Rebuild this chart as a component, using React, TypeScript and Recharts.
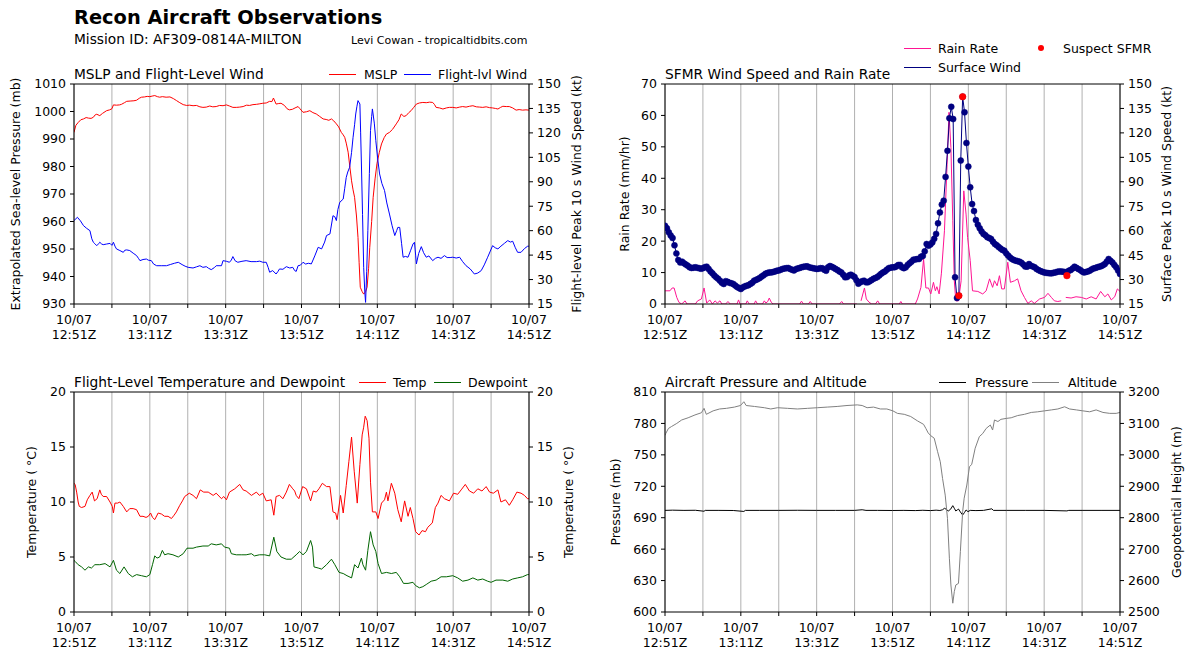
import React from 'react';
import { ComposedChart, Line, XAxis, YAxis, CartesianGrid, ReferenceLine } from 'recharts';

const FONT = '"DejaVu Sans", sans-serif';

type Pair = [number, number | null];

// ---------- x axis (minutes after 12:51Z) ----------
const timeTicks = [0, 10, 20, 30, 40, 50, 60, 70, 80, 90, 100, 110, 120];
const timeLabels = ['12:51Z', '13:11Z', '13:31Z', '13:51Z', '14:11Z', '14:31Z', '14:51Z'];
const dateLabel = '10/07';

// ---------- y axis ticks ----------
const mslpTicks = [930, 940, 950, 960, 970, 980, 990, 1000, 1010];
const windTicks = [15, 30, 45, 60, 75, 90, 105, 120, 135, 150];
const rainTicks = [0, 10, 20, 30, 40, 50, 60, 70];
const tempTicks = [0, 5, 10, 15, 20];
const presTicks = [600, 630, 660, 690, 720, 750, 780, 810];
const altTicks = [2500, 2600, 2700, 2800, 2900, 3000, 3100, 3200];

// ---------- Panel 1: MSLP (mb) ----------
const mslp: Pair[] = [
  [0, 992.4], [0.5, 995], [1.1, 996], [1.8, 997], [2.5, 997.3], [3.2, 997.8], [3.8, 997.6], [4.5, 997.5], [5.1, 997.9], [5.6, 998.8],
  [6, 999], [6.8, 998.5], [7.5, 999.3], [8.6, 1000.3], [9.4, 1000.6], [10, 1001], [10.4, 1002.4], [11.2, 1002.3], [12, 1002.4], [12.5, 1002.6],
  [13.3, 1003.2], [13.9, 1003.7], [14.8, 1003.8], [15.8, 1003.9], [16.5, 1004.1], [17.2, 1004.8], [17.8, 1005.2], [18.6, 1005.3], [19.3, 1005.5], [20, 1005.4],
  [20.6, 1005.6], [21.3, 1005.8], [22, 1005.4], [22.6, 1005.2], [23.3, 1005.4], [24.3, 1005.2], [25.3, 1005.3], [26.2, 1004.7], [27, 1004], [27.9, 1003.2],
  [28.8, 1002.5], [29.7, 1002.2], [30.5, 1002.3], [31.4, 1002.1], [32.3, 1002.2], [33.2, 1001.7], [34, 1001.5], [34.9, 1001.6], [35.8, 1002], [36.6, 1001.7],
  [37.5, 1001.8], [38.4, 1002.2], [39.3, 1002.1], [40.2, 1002.4], [41, 1002], [41.9, 1001.5], [42.8, 1001.5], [43.7, 1001.6], [44.6, 1001.8], [45.5, 1002.3],
  [46.3, 1002.2], [47.2, 1002.5], [48.1, 1002.6], [49, 1002.8], [49.8, 1003], [50.7, 1003.1], [51.6, 1003.7], [52.2, 1003.6], [52.6, 1004.9], [53.3, 1002.7],
  [54, 1002.9], [54.6, 1003], [55.5, 1002.2], [56.2, 1001], [56.8, 1000.6], [57.6, 1000.8], [58.3, 1001.3], [59.1, 1001.8], [59.6, 1001], [60.4, 999.7],
  [61.3, 999.9], [62.2, 1000.3], [63, 999.6], [63.9, 999.1], [64.8, 998.2], [65.7, 997.3], [66.5, 997.1], [67.2, 996.8], [67.9, 997.3], [68.5, 996.6],
  [69.2, 995.5], [69.8, 994.4], [70.5, 992.4], [71, 991.5], [71.4, 990.6], [71.8, 988.5], [72.3, 985.2], [72.7, 980.5], [73.2, 974.8], [73.6, 971.5],
  [74, 968.8], [74.5, 962], [74.9, 954.2], [75.2, 945], [75.5, 936.1], [76, 934.5], [76.4, 933.6], [76.9, 934.5], [77.3, 936.1], [77.7, 943],
  [78, 950.6], [78.5, 960], [78.9, 968.8], [79.4, 975.5], [79.9, 981], [80.5, 985], [81.1, 988.2], [81.8, 990.5], [82.4, 991.8], [83.2, 992.4],
  [84, 993.5], [85, 995.5], [85.7, 997], [86.3, 999.1], [87, 998.2], [87.6, 998.5], [88.3, 999.6], [88.9, 1000.3], [89.6, 1001.5], [90.3, 1002.7],
  [91.1, 1003.1], [92, 1003.3], [92.9, 1003.2], [93.8, 1003.4], [94.6, 1003.3], [95.1, 1002.5], [95.5, 1001.5], [96.4, 1001.3], [97.3, 1000.9], [98.2, 1001.3],
  [99, 1001.5], [99.9, 1001.5], [100.8, 1001.3], [101.7, 1001.6], [102.5, 1001.8], [103.4, 1001.6], [104.3, 1001.9], [105.2, 1002.1], [106.1, 1001.7], [107, 1001.6],
  [107.8, 1001.5], [108.7, 1001.7], [109.6, 1001.4], [110.4, 1001.3], [111.2, 1001.1], [111.8, 1000.9], [112.5, 1001.5], [113.1, 1001.9], [114, 1001.8], [114.8, 1001.8],
  [115.7, 1001.3], [116.6, 1000.5], [117.4, 1000.7], [118.3, 1000.5], [119.2, 1000.6], [120, 1000.5],
];

// ---------- Panel 1: flight-level wind (kt) ----------
const flWind: Pair[] = [
  [0, 66.2], [0.9, 68.2], [1.7, 66], [2.5, 63.1], [3.3, 61.5], [4.2, 60], [4.7, 55], [5.1, 52.9], [5.5, 52], [6, 50.8],
  [6.5, 52], [6.8, 52.9], [7.3, 51.8], [7.7, 51.4], [8.6, 51.8], [9.5, 52.2], [10, 51], [10.4, 52.9], [10.8, 50.5], [11.2, 48.8],
  [12.1, 47.8], [13, 46.7], [13.4, 48], [13.9, 48.2], [14.7, 47.8], [15.6, 46.2], [16.5, 44.7], [17, 43], [17.4, 41.6], [18.2, 42.3],
  [19.1, 42.6], [19.6, 41.9], [20.4, 41.6], [21, 39.5], [21.8, 38.5], [23, 38.5], [24.4, 38.5], [25.5, 39.3], [26.5, 40], [27.5, 40.6],
  [28.5, 39.2], [29.3, 38.2], [30.1, 37.5], [31.4, 37.1], [32.3, 37.8], [33.2, 38.5], [34, 37.5], [34.9, 37.9], [35.5, 36.9], [36.2, 36.1],
  [37, 37.3], [37.5, 38.5], [38.9, 38.5], [39.3, 41.6], [40.2, 41.2], [41, 40.6], [41.5, 42], [41.9, 44.1], [42.5, 41.5], [43.2, 40.6],
  [44.3, 41.2], [45.4, 41.6], [46.7, 41], [48.1, 41], [49, 41.3], [49.8, 40.6], [50.7, 40.6], [51.2, 37.5], [51.6, 34.5], [52.4, 35.5],
  [53.3, 33.4], [53.8, 35], [54.2, 36.5], [55.1, 36.3], [56, 37.9], [56.9, 37.1], [57.7, 37.5], [58.2, 35.5], [58.6, 35], [59.1, 38.5],
  [59.7, 38.8], [60.4, 40.6], [61.1, 39.5], [61.8, 40], [62.6, 39.6], [63.5, 44.5], [64.4, 49.8], [65.3, 48.8], [66.1, 53], [66.6, 57],
  [67.5, 58], [68.3, 69.2], [68.8, 68.5], [69.2, 66.2], [69.6, 73], [70.1, 77.4], [71, 79.4], [71.4, 86], [71.8, 92.7], [72.2, 96],
  [72.7, 98.9], [73.2, 108], [73.6, 117.3], [74, 125], [74.3, 131.6], [74.6, 136], [74.9, 139.8], [75.4, 137.7], [75.6, 120], [75.8, 100.9],
  [76.1, 70], [76.4, 37.5], [76.7, 22], [76.9, 16], [77.2, 35], [77.5, 60], [77.9, 95], [78.2, 121.4], [78.5, 130], [78.7, 134.7],
  [79.2, 126], [79.6, 115.2], [80.1, 104], [80.6, 94.8], [81.2, 89], [81.9, 84.6], [82.5, 77], [83.2, 70.2], [83.9, 63], [84.6, 57],
  [85.1, 60], [85.4, 62], [85.9, 62], [86.4, 52], [86.8, 43.7], [87.4, 44.2], [88.1, 43.7], [88.8, 48], [89.4, 51.8], [89.8, 52.9],
  [90.1, 45], [90.3, 39.6], [90.9, 46], [91.6, 50.2], [92.2, 46.5], [92.9, 43.7], [93.6, 44.5], [94.6, 41.6], [95.3, 43], [96, 43.7],
  [96.8, 43], [97.7, 44.7], [98.4, 43.5], [99.2, 43.5], [99.9, 43.7], [100.8, 43.2], [101.7, 43.7], [102.5, 41], [103.4, 38.5], [104.5, 36.5],
  [105.6, 33.4], [106.5, 34], [107.4, 35.5], [108.2, 39], [109.1, 43.7], [109.8, 47.5], [110.4, 50.8], [111.1, 49.5], [111.8, 48.8], [112.6, 50.5],
  [113.5, 52.2], [114.4, 53.9], [115.1, 53], [115.7, 53.5], [116.4, 49.5], [117, 46.7], [117.9, 46.7], [118.8, 49], [119.6, 50.4], [120, 50.5],
];

// ---------- Panel 2: SFMR surface wind (kt), 30-s observations ----------
const sfmr: Pair[] = [
  [0, 63], [0.5, 61.5], [1, 59], [1.5, 57], [2, 55.5], [2.5, 51], [3, 46], [3.5, 42], [4, 40.5], [4.5, 41],
  [5, 40], [5.5, 39.2], [6, 38.5], [6.5, 37.5], [7, 37.1], [7.5, 37.3], [8, 37.5], [8.5, 37.2], [9, 37], [9.5, 36.6],
  [10, 37], [10.5, 37.6], [11, 37.9], [11.5, 36.5], [12, 35], [12.5, 33.8], [13, 32.5], [13.5, 31.4], [14, 30.5], [14.5, 29.3],
  [15, 28], [15.5, 27.3], [16, 29], [16.5, 28.6], [17, 28], [17.5, 27.7], [18, 27.3], [18.5, 26.4], [19, 25.5], [19.5, 24.8],
  [20, 24.2], [20.5, 25.2], [21, 25.8], [21.5, 26.2], [22, 26.5], [22.5, 27.3], [23, 28], [23.5, 29.3], [24, 29.8], [24.5, 30.3],
  [25, 31], [25.5, 31.9], [26, 32.6], [26.5, 33.6], [27, 34], [27.5, 34.4], [28, 34.4], [28.5, 34.6], [29, 35], [29.5, 35.4],
  [30, 35.6], [30.5, 36], [31, 36.5], [31.5, 36.8], [32, 37], [32.5, 37.1], [33, 36.5], [33.5, 36], [34, 35.6], [34.5, 36.4],
  [35, 36.8], [35.5, 37.1], [36, 37.5], [36.5, 37.8], [37, 38], [37.5, 38.1], [38, 37.5], [38.5, 37.3], [39, 37], [39.5, 36.8],
  [40, 36.5], [40.5, 36.7], [41, 37], [41.5, 36.9], [42, 36], [42.5, 35.4], [43, 37.5], [43.5, 38.3], [44, 37.8], [44.5, 37.2],
  [45, 36.5], [45.5, 35.8], [46, 35], [46.5, 34.4], [47, 33], [47.5, 31.4], [48, 31.5], [48.5, 32.5], [49, 33], [49.5, 32.4],
  [50, 31.5], [50.5, 29.5], [51, 27.5], [51.5, 28.3], [52, 29], [52.5, 29.3], [53, 28.3], [53.5, 28.3], [54, 29], [54.5, 29.7],
  [55, 30.5], [55.5, 31], [56, 31.5], [56.5, 32.5], [57, 33.5], [57.5, 34.4], [58, 35], [58.5, 36], [59, 37], [59.5, 37.3],
  [60, 37.5], [60.5, 37.5], [61, 38], [61.5, 38.9], [62, 39], [62.5, 37.5], [63, 37], [63.5, 37.5], [64, 39], [64.5, 40],
  [65, 41], [65.5, 42.2], [66, 42.3], [66.5, 42.6], [67, 42.6], [67.5, 44], [68, 44.5], [68.5, 47.3], [69, 51.8], [69.5, 50.8],
  [70, 51.5], [70.5, 52.8], [71, 55], [71.5, 58], [72, 64.5], [72.5, 71.2], [73, 76], [73.5, 78.4], [74, 93], [74.5, 109],
  [75, 129], [75.5, 136], [76, 128.5], [76.5, 31.4], [77, 18.7], [77.5, 20.1], [78, 103], [78.5, 142.2], [79, 132.6], [79.5, 113.8],
  [80, 99.3], [80.5, 86.6], [81, 76.3], [81.5, 72], [82, 66.5], [82.5, 63.7], [83, 61.5], [83.5, 59.5], [84, 58], [84.5, 57.2],
  [85, 56], [85.5, 55.5], [86, 54.9], [86.5, 53.2], [87, 51.8], [87.5, 51], [88, 50], [88.5, 49], [89, 48.2], [89.5, 47.7],
  [90, 46], [90.5, 44.7], [91, 43.5], [91.5, 42.6], [92, 42], [92.5, 41.6], [93, 41.3], [93.5, 41], [94, 40.3], [94.5, 39.2],
  [95, 38], [95.5, 37.9], [96, 39.5], [96.5, 38.5], [97, 38], [97.5, 37.5], [98, 36.5], [98.5, 35.8], [99, 35.2], [99.5, 34.8],
  [100, 34.4], [100.5, 34.1], [101, 34], [101.5, 33.8], [102, 33.8], [102.5, 34.2], [103, 34.4], [103.5, 34.8], [104, 35], [104.5, 34.9],
  [105, 34.8], [105.5, 34.6], [106, null], [106.5, 35.4], [107, 35.8], [107.5, 36.8], [108, 37.9], [108.5, 37.2], [109, 36.5], [109.5, 35.9],
  [110, 35], [110.5, 34.4], [111, 34.6], [111.5, 35], [112, 35.4], [112.5, 36.2], [113, 36.8], [113.5, 37.1], [114, 37.5], [114.5, 37.9],
  [115, 38.2], [115.5, 38.8], [116, 39.5], [116.5, 41], [117, 42.6], [117.5, 41.5], [118, 40.5], [118.5, 39], [119, 37.5], [119.5, 35.5],
  [120, 33.4],
];
const suspectSfmr: Pair[] = [[77.5, 20.1], [78.5, 142.2], [106, 32.4]];

// ---------- Panel 2: rain rate (mm/hr) ----------
const rainRate: Pair[] = [
  [0, 4.2], [1.3, 4.2], [1.9, 5.1], [2.4, 5.1], [3.1, 2.1], [3.7, 0.5], [4.4, 0], [5.3, 1], [5.8, 0], [8, 0],
  [8.6, 1], [9.6, 1.6], [10.3, 5.1], [11, 0.3], [11.8, 1.3], [12.5, 0], [13.2, 1], [13.8, 0.3], [14.5, 1], [15, 0],
  [16, 0], [16.6, 0.8], [17.2, 0], [19, 0], [19.4, 1.3], [19.8, 0], [21.3, 0], [21.7, 1], [22.2, 0], [23.5, 0],
  [23.9, 1], [24.4, 0], [25.7, 0], [26.2, 1], [26.6, 0.3], [27.1, 0.8], [27.5, 1.9], [28, 0.6], [28.5, 0], [35.5, 0],
  [36, 0.9], [36.5, 0], [37.8, 0], [38.3, 0.8], [38.8, 0], [46, 0], [46.6, 0.8], [47.1, 0], [50.6, 0], [51.2, null],
  [51.7, 1], [52.6, 5.1], [53.1, 1.6], [53.8, 0.6], [54.5, 0], [55.5, 0], [56.1, 1], [56.6, 0], [61.8, 0], [62.2, 0.8],
  [62.6, 0], [66, 0], [66.6, 1.6], [67.5, 5.3], [68.2, 14.3], [68.8, 5.1], [69.5, 5.1], [70.1, 3.2], [70.8, 6.9], [71.3, 4.2],
  [71.7, 5.5], [72.3, 3.2], [72.9, 9.8], [73.7, 23.3], [74.4, 44.5], [74.9, 61], [75.4, 49.8], [75.9, 26.5], [76.3, 7.4], [76.7, 1],
  [77.4, 1], [78.1, 7.4], [78.8, 36], [79.4, 28.6], [79.8, 21.2], [80.5, 13.8], [81.1, 4.2], [82.5, 4], [83.8, 3.2], [84.7, 4.2],
  [85.6, 8], [86.4, 5.3], [86.9, 7.4], [87.6, 5.8], [88.2, 9], [88.8, 4.8], [89.5, 4.8], [90.4, 13.3], [91.1, 6.9], [92.2, 7.4],
  [93, 8], [93.9, 4.2], [94.8, 2.1], [95.7, 0.2], [96.6, 1], [97.4, 0.2], [98.8, 1.6], [100.1, 2.1], [101, 3.4], [101.9, 2.1],
  [102.7, 1], [103.6, 0.8], [104.5, 1], [105.1, null], [105.7, 2.1], [107.1, 1.9], [108.4, 2.3], [109.8, 2.1], [111.1, 1.6], [112.4, 2.3],
  [113.7, 1.6], [114.9, 4], [116, 2.3], [116.8, 3.2], [117.7, 1.3], [118.6, 2.3], [119.3, 4.8], [120, 4],
];

// ---------- Panel 3: temperature / dewpoint (C) ----------
const temp: Pair[] = [
  [0, 11.7], [0.3, 11.6], [0.7, 10.9], [1.1, 10], [1.4, 9.6], [2, 9.5], [2.9, 9.6], [3.5, 10.2], [4.2, 10.6], [4.8, 10.9],
  [5.4, 10.1], [6.1, 10.3], [6.8, 11.1], [7.2, 10.7], [7.7, 10.5], [8.6, 10.5], [9.5, 10], [10.1, 9.6], [10.4, 9], [10.8, 9.9],
  [11.5, 9.9], [12.1, 10], [13, 9.6], [13.9, 9.1], [14.7, 9.4], [15.6, 9.4], [16.5, 9.3], [17.4, 8.7], [18.2, 8.7], [19, 8.6],
  [19.6, 8.7], [20.2, 9], [20.7, 8.6], [21.3, 8.4], [22.2, 9], [23.1, 8.9], [23.9, 8.7], [24.8, 8.7], [25.7, 8.5], [26.4, 8.8],
  [27, 9.1], [27.9, 9.7], [28.6, 10.1], [29.2, 10.5], [30.4, 10.8], [31.4, 10.6], [32.3, 10.3], [33.3, 11.1], [34.2, 10.9], [35.4, 10.9],
  [36.7, 10.6], [37.5, 10.8], [38.9, 10.3], [39.5, 10.5], [40.2, 10.2], [41, 10.9], [42.4, 11.2], [43.7, 11.6], [44.6, 11.1], [45.4, 11],
  [46.8, 10.6], [48.1, 10.9], [48.9, 10.6], [49.8, 10.8], [50.7, 10.1], [52, 10.2], [52.7, 8.8], [53.3, 10.5], [54.2, 10.6], [55.1, 10.3],
  [56, 10.9], [56.8, 11.6], [57.7, 11.2], [58.2, 11], [58.6, 10.6], [59.3, 10.3], [60.3, 11.4], [61.3, 11.2], [62.4, 10.1], [63.1, 11],
  [63.9, 10.9], [64.6, 11.2], [65.5, 11.7], [66.6, 11.4], [67.5, 11.4], [68.3, 9.1], [69, 9], [69.4, 8.4], [70.3, 10.6], [71, 9],
  [71.8, 11.5], [72.5, 13.7], [73.2, 15.9], [73.9, 12.8], [74.7, 9.9], [75.4, 13.4], [76, 16.1], [76.4, 16.8], [76.8, 17.8], [77.3, 17.4],
  [77.8, 15.8], [78.2, 11.8], [78.7, 9.1], [79.6, 9.1], [80.2, 8.5], [81.1, 9.9], [81.9, 10.2], [82.4, 10.9], [82.8, 10.1], [83.7, 11.7],
  [84.6, 10.8], [85.4, 9.3], [86.3, 8.2], [87.2, 10.1], [88.1, 8.7], [88.7, 9.5], [89.4, 8.5], [90.1, 7.3], [91, 7], [91.8, 7.4],
  [92.7, 7.3], [93.3, 7.7], [94.5, 8.1], [95.3, 9.5], [96, 9.9], [96.8, 10.6], [97.7, 10.3], [99, 10.1], [100.1, 10.8], [101.2, 10.7],
  [102.1, 11.1], [103.2, 11.6], [104.3, 11], [105.4, 10.8], [106.5, 11.2], [107.6, 11], [108.7, 11.4], [109.6, 10.9], [110.6, 10.8], [111.8, 11.1],
  [112.6, 10], [113.8, 10.2], [114.8, 9.7], [115.7, 10.2], [116.8, 10.9], [117.9, 10.8], [118.8, 10.6], [119.6, 10.3], [120, 10.3],
];
const dewpoint: Pair[] = [
  [0, 4.7], [0.3, 4.6], [1.1, 4.3], [2, 4.1], [2.9, 3.8], [3.8, 4.1], [4.6, 4], [5.5, 4.3], [6.8, 4.3], [8.2, 4.4],
  [9.5, 4.1], [10.4, 4.7], [11.2, 3.8], [12.1, 3.5], [13.2, 4.1], [14.3, 3.5], [15.4, 3.2], [16.5, 3.4], [17.8, 3.3], [19.1, 3.2],
  [20, 3.4], [20.7, 4.3], [21.3, 5.1], [21.9, 4.9], [22.6, 5], [23.3, 5.6], [23.9, 5.2], [24.8, 5.3], [26.1, 5.2], [27.5, 5],
  [28.8, 5.3], [29.8, 5.8], [31.4, 5.8], [32.3, 5.9], [34, 6], [35.4, 6], [36.2, 6.2], [37.5, 6.1], [38.9, 6.2], [39.7, 5.9],
  [41, 5.8], [41.5, 5.3], [42.8, 5.2], [44.1, 5.2], [45.4, 5.2], [46.8, 5.3], [47.6, 5.1], [48.9, 5.2], [50.3, 5.2], [51.6, 5.1],
  [52.7, 6.8], [53.5, 5.5], [54.6, 5], [56, 4.8], [57.3, 4.8], [58.6, 5.2], [59.5, 5.5], [60.4, 5.2], [61.3, 5.5], [62.4, 6.5],
  [62.9, 5.9], [63.3, 4.1], [64.4, 4], [65.3, 3.9], [66.6, 4.3], [67.9, 4.8], [68.8, 4.3], [69.9, 3.6], [71, 3.5], [72, 3.3],
  [73.2, 3.1], [74, 4.3], [74.9, 4], [75.8, 4.9], [76.2, 4.3], [76.9, 3.8], [77.5, 5.6], [78.2, 7.3], [78.9, 6.1], [79.6, 5.5],
  [80.2, 4.4], [81.1, 3.5], [82.4, 3.6], [83.7, 3.5], [85, 3.6], [85.9, 3.2], [86.9, 2.6], [88.1, 2.6], [89.4, 2.7], [90.1, 2.4],
  [91.1, 2.2], [92, 2.3], [92.9, 2.5], [94.2, 2.8], [95.5, 2.9], [96.8, 3.2], [98.2, 3.2], [99.9, 3.3], [101.2, 3.1], [102.5, 2.8],
  [103.9, 2.9], [105.2, 3.1], [106.5, 2.9], [107.8, 3], [109.1, 2.8], [110, 2.7], [111.3, 2.9], [113.1, 2.9], [114.4, 2.8], [115.7, 3],
  [117, 3.1], [118.3, 3.2], [119.6, 3.4], [120, 3.4],
];

// ---------- Panel 4: aircraft pressure (mb) / altitude (m) ----------
const acPressure: Pair[] = [
  [0, 697], [2, 697.2], [5, 697], [8, 697.1], [10.3, 696.2], [10.6, 697], [14, 697], [18, 696.9], [20.8, 696], [21.2, 697],
  [25, 697], [30, 697], [35, 697.1], [40, 697], [45, 697], [50, 697], [52, 697.6], [53, 697], [56, 697], [60, 696.9],
  [63, 697], [66, 696.8], [68, 697.1], [70, 696.8], [71.5, 697.2], [72.5, 696.9], [73.2, 697.6], [73.7, 699], [74.2, 698], [74.7, 696.4],
  [75.3, 698], [75.9, 701.5], [76.3, 699], [76.7, 696.4], [77.1, 697.5], [77.4, 698.3], [77.9, 695.5], [78.5, 692.6], [79, 695], [79.4, 697.4],
  [79.9, 695.8], [80.5, 697], [82, 696.8], [84, 697], [86.2, 698.5], [86.6, 697], [90, 697], [95, 697], [100, 697], [106, 696.5],
  [106.5, 697], [110, 697], [115, 697], [120, 697],
];
const altitude: Pair[] = [
  [0, 3062], [0.2, 3068], [0.9, 3084], [1.7, 3090], [3.1, 3100], [4.4, 3111], [6.1, 3118], [7.9, 3127], [9.6, 3134], [10.3, 3148],
  [10.9, 3129], [12.7, 3140], [14.4, 3146], [16.2, 3148], [18.3, 3152], [19.9, 3157], [20.8, 3169], [21.4, 3157], [23.6, 3154], [26.2, 3150],
  [27.9, 3146], [29.7, 3150], [32.3, 3148], [34.9, 3146], [37.6, 3148], [40.2, 3150], [42.8, 3152], [45.4, 3154], [48, 3157], [50.7, 3159],
  [52, 3157], [53.3, 3150], [55, 3152], [56.8, 3146], [58.5, 3146], [60.1, 3140], [61.3, 3132], [63.1, 3129], [64.8, 3122], [66.6, 3108],
  [68.2, 3097], [68.8, 3084], [69.4, 3070], [70.1, 3061], [71, 3053], [71.9, 3010], [72.6, 2978], [73.2, 2925], [73.9, 2872], [74.5, 2798],
  [75, 2671], [75.4, 2586], [75.9, 2528], [76.3, 2565], [76.7, 2586], [77.4, 2591], [77.9, 2692], [78.5, 2819], [78.9, 2862], [79.6, 2904],
  [80.3, 2962], [80.9, 2970], [81.8, 3021], [82.9, 3058], [83.8, 3068], [84.7, 3084], [85.8, 3095], [86.4, 3079], [86.9, 3111], [87.8, 3106],
  [88.6, 3113], [90, 3116], [91.3, 3118], [93, 3125], [94.8, 3129], [96.6, 3135], [98.3, 3137], [100.1, 3140], [101.9, 3143], [103.6, 3146],
  [105.4, 3153], [106.7, 3146], [108.5, 3143], [110.2, 3140], [112, 3137], [113.7, 3143], [115.5, 3135], [117.3, 3132], [119, 3132], [120, 3135],
];

const rows = (a: Pair[]) => a.map(([t, v]) => ({ t, v }));

// ---------- shared pieces ----------
const TimeTick = (props: any) => {
  const { x, y, payload } = props;
  const v = payload.value as number;
  if (v % 20 !== 0) return <g />;
  return (
    <text x={x} y={y} textAnchor="middle" fontSize={12.5} fontFamily={FONT} fill="#000">
      <tspan x={x} y={y + 11.5} dominantBaseline="central">{dateLabel}</tspan>
      <tspan x={x} y={y + 26.5} dominantBaseline="central">{timeLabels[v / 20]}</tspan>
    </text>
  );
};

type PanelProps = {
  left: number;
  top: number;
  lDomain: [number, number];
  lTicks: number[];
  lLabel: string;
  lOff: number;
  rDomain: [number, number];
  rTicks: number[];
  rLabel: string;
  rOff: number;
  children: React.ReactNode;
};

const tickStyle = { fontSize: 12.5, fill: '#000', fontFamily: FONT };
const labelStyle = { textAnchor: 'middle' as const, fontSize: 12.5, fontFamily: FONT, fill: '#000' };

function Panel(p: PanelProps) {
  return (
    <div style={{ position: 'absolute', left: p.left, top: p.top, width: 600, height: 290 }}>
      <ComposedChart width={600} height={290} margin={{ top: 24, right: 0, bottom: 6, left: 0 }}>
        <CartesianGrid horizontal={false} vertical stroke="#b0b0b0" strokeWidth={1} yAxisId="l" />
        <XAxis
          dataKey="t"
          type="number"
          domain={[0, 120]}
          ticks={timeTicks}
          interval={0}
          height={40}
          tickSize={4}
          tickMargin={0}
          tick={TimeTick}
          axisLine={{ stroke: '#000' }}
          tickLine={{ stroke: '#000' }}
          allowDataOverflow
        />
        <YAxis
          yAxisId="l"
          orientation="left"
          type="number"
          width={74}
          domain={p.lDomain}
          ticks={p.lTicks}
          interval={0}
          allowDataOverflow
          tickSize={4}
          tickMargin={4}
          tick={tickStyle}
          axisLine={{ stroke: '#000' }}
          tickLine={{ stroke: '#000' }}
          label={{ value: p.lLabel, angle: -90, position: 'insideLeft', offset: p.lOff, style: labelStyle }}
        />
        <YAxis
          yAxisId="r"
          orientation="right"
          type="number"
          width={71}
          domain={p.rDomain}
          ticks={p.rTicks}
          interval={0}
          allowDataOverflow
          tickSize={4}
          tickMargin={4}
          tick={tickStyle}
          axisLine={{ stroke: '#000' }}
          tickLine={{ stroke: '#000' }}
          label={{ value: p.rLabel, angle: -90, position: 'insideRight', offset: p.rOff, style: labelStyle }}
        />
        <ReferenceLine yAxisId="l" y={p.lDomain[1]} stroke="#000" strokeWidth={1} />
        {p.children}
      </ComposedChart>
    </div>
  );
}

const Txt = ({ x, y, size, bold, children }: { x: number; y: number; size: number; bold?: boolean; children: React.ReactNode }) => (
  <div
    style={{
      position: 'absolute',
      left: x,
      top: y - size * 0.6,
      fontSize: size,
      lineHeight: `${size * 1.2}px`,
      fontFamily: FONT,
      fontWeight: bold ? 'bold' : 'normal',
      whiteSpace: 'nowrap',
      color: '#000',
    }}
  >
    {children}
  </div>
);

const Swatch = ({ x, y, color }: { x: number; y: number; color: string }) => (
  <div style={{ position: 'absolute', left: x, top: y, width: 27, height: 1, background: color }} />
);

export default function App() {
  return (
    <div style={{ position: 'absolute', left: 0, top: 0, width: 1193, height: 659, overflow: 'hidden', background: '#fff' }}>
      {/* header */}
      <Txt x={74} y={18} size={19.4} bold>Recon Aircraft Observations</Txt>
      <Txt x={74} y={39} size={13.75}>Mission ID: AF309-0814A-MILTON</Txt>
      <Txt x={351} y={41} size={11}>Levi Cowan - tropicaltidbits.com</Txt>

      {/* Panel 1 */}
      <Panel
        left={0}
        top={60}
        lDomain={[930, 1010]}
        lTicks={mslpTicks}
        lLabel="Extrapolated Sea-level Pressure (mb)"
        lOff={16}
        rDomain={[15, 150]}
        rTicks={windTicks}
        rLabel="Flight-level Peak 10 s Wind Speed (kt)"
        rOff={23}
      >
        {[
          <Line key="mslp" yAxisId="l" data={rows(mslp)} dataKey="v" type="linear" stroke="#ff0000" strokeWidth={1} dot={false} activeDot={false} isAnimationActive={false} />,
          <Line key="fl" yAxisId="r" data={rows(flWind)} dataKey="v" type="linear" stroke="#0000ff" strokeWidth={1} dot={false} activeDot={false} isAnimationActive={false} />,
        ]}
      </Panel>
      <Txt x={74} y={74} size={13.75}>MSLP and Flight-Level Wind</Txt>
      <Swatch x={329} y={74} color="#ff0000" />
      <Txt x={364} y={74} size={12.5}>MSLP</Txt>
      <Swatch x={404} y={74} color="#0000ff" />
      <Txt x={438} y={74} size={12.5}>Flight-lvl Wind</Txt>

      {/* Panel 2 */}
      <Panel
        left={591}
        top={60}
        lDomain={[0, 70]}
        lTicks={rainTicks}
        lLabel="Rain Rate (mm/hr)"
        lOff={34}
        rDomain={[15, 150]}
        rTicks={windTicks}
        rLabel="Surface Peak 10 s Wind Speed (kt)"
        rOff={24}
      >
        {[
          <Line key="rain" yAxisId="l" data={rows(rainRate)} dataKey="v" type="linear" stroke="#ff1493" strokeWidth={1} dot={false} activeDot={false} connectNulls={false} isAnimationActive={false} />,
          <Line key="sfmr" yAxisId="r" data={rows(sfmr)} dataKey="v" type="linear" stroke="#000080" strokeWidth={1} dot={{ r: 3, fill: '#000080', stroke: '#000080', strokeWidth: 0.5 }} activeDot={false} connectNulls={false} isAnimationActive={false} />,
          <Line key="susp" yAxisId="r" data={rows(suspectSfmr)} dataKey="v" type="linear" stroke="none" dot={{ r: 3.3, fill: '#ff0000', stroke: '#ff0000', strokeWidth: 0.5 }} activeDot={false} isAnimationActive={false} />,
        ]}
      </Panel>
      <Txt x={665} y={74} size={13.75}>SFMR Wind Speed and Rain Rate</Txt>
      <Swatch x={904} y={48} color="#ff1493" />
      <Txt x={938} y={48} size={12.5}>Rain Rate</Txt>
      <Swatch x={904} y={67} color="#000080" />
      <Txt x={938} y={67} size={12.5}>Surface Wind</Txt>
      <div style={{ position: 'absolute', left: 1038, top: 45, width: 6, height: 6, borderRadius: 3, background: '#ff0000' }} />
      <Txt x={1063} y={48} size={12.5}>Suspect SFMR</Txt>

      {/* Panel 3 */}
      <Panel
        left={0}
        top={368}
        lDomain={[0, 20]}
        lTicks={tempTicks}
        lLabel="Temperature ( °C)"
        lOff={32}
        rDomain={[0, 20]}
        rTicks={tempTicks}
        rLabel="Temperature ( °C)"
        rOff={31}
      >
        {[
          <Line key="temp" yAxisId="l" data={rows(temp)} dataKey="v" type="linear" stroke="#ff0000" strokeWidth={1} dot={false} activeDot={false} isAnimationActive={false} />,
          <Line key="dew" yAxisId="l" data={rows(dewpoint)} dataKey="v" type="linear" stroke="#006400" strokeWidth={1} dot={false} activeDot={false} isAnimationActive={false} />,
        ]}
      </Panel>
      <Txt x={74} y={382} size={13.75}>Flight-Level Temperature and Dewpoint</Txt>
      <Swatch x={359} y={382} color="#ff0000" />
      <Txt x={393} y={382} size={12.5}>Temp</Txt>
      <Swatch x={434} y={382} color="#006400" />
      <Txt x={468} y={382} size={12.5}>Dewpoint</Txt>

      {/* Panel 4 */}
      <Panel
        left={591}
        top={368}
        lDomain={[600, 810]}
        lTicks={presTicks}
        lLabel="Pressure (mb)"
        lOff={25}
        rDomain={[2500, 3200]}
        rTicks={altTicks}
        rLabel="Geopotential Height (m)"
        rOff={14}
      >
        {[
          <Line key="pres" yAxisId="l" data={rows(acPressure)} dataKey="v" type="linear" stroke="#000000" strokeWidth={1} dot={false} activeDot={false} isAnimationActive={false} />,
          <Line key="alt" yAxisId="r" data={rows(altitude)} dataKey="v" type="linear" stroke="#808080" strokeWidth={1} dot={false} activeDot={false} isAnimationActive={false} />,
        ]}
      </Panel>
      <Txt x={665} y={382} size={13.75}>Aircraft Pressure and Altitude</Txt>
      <Swatch x={939} y={382} color="#000000" />
      <Txt x={975} y={382} size={12.5}>Pressure</Txt>
      <Swatch x={1032} y={382} color="#808080" />
      <Txt x={1068} y={382} size={12.5}>Altitude</Txt>
    </div>
  );
}
